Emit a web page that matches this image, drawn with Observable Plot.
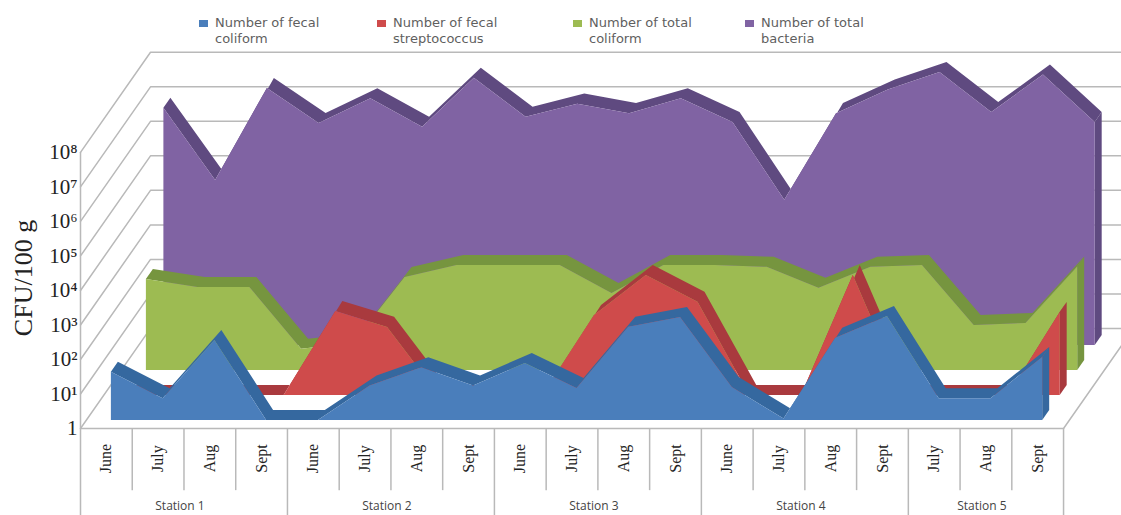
<!DOCTYPE html>
<html>
<head>
<meta charset="utf-8">
<script src="https://cdn.jsdelivr.net/npm/d3@7"></script>
<script src="https://cdn.jsdelivr.net/npm/@observablehq/plot@0.6"></script>
<style>
html,body{margin:0;padding:0;background:#fff;overflow:hidden}
#legend{position:relative;height:48px;font:13px "DejaVu Sans",sans-serif;color:#5f5f5f;line-height:16px}
#legend .item{position:absolute;top:15px;width:140px}
#legend .sw{position:absolute;left:-16px;top:5px;width:9px;height:7px}
svg{display:block}
</style>
</head>
<body>
<div id="legend"></div>
<div id="chart"></div>
<script>
const months = ["June","July","Aug","Sept","June","July","Aug","Sept","June","July","Aug","Sept","June","July","Aug","Sept","July","Aug","Sept"];
const stations = ["Station 1","Station 2","Station 3","Station 4","Station 5"];
const stationStarts = [0,4,8,12,16,19];

const fecalColiform = [25,4.3,209,1,1,10,34,10,45,8.5,500,970,9,1.1,240,1030,4.3,4.3,67];
const fecalStrep = [1,1,1,1,270,94,1,1,1,208,3000,500,1,1,3000,1,1,1,255];
const totalColiform = [435,255,255,4.1,6,495,1100,1100,1100,170,1100,1100,970,240,970,1100,20,23,1000];
const totalBacteria = [7.4e6,6e4,2.8e7,2.7e6,1.4e7,2.1e6,5.5e7,4.1e6,9.8e6,5.2e6,1.4e7,2.9e6,1.6e4,5.2e6,2.5e7,8.1e7,5.6e6,6.8e7,2.9e6];

const names = ["Number of fecal coliform","Number of fecal streptococcus","Number of total coliform","Number of total bacteria"];
const legendLines = [["Number of fecal","coliform"],["Number of fecal","streptococcus"],["Number of total","coliform"],["Number of total","bacteria"]];
const legendLeft = [215,393,589,761];
const faceColors = ["#4a7ebb","#cf4b4b","#9dbb52","#8063a3"];
const topColors = ["#35689f","#a93a3e","#76953f","#5f4a80"];
const seriesValues = [fecalColiform,fecalStrep,totalColiform,totalBacteria];
const decadeTicks = [1,1e1,1e2,1e3,1e4,1e5,1e6,1e7,1e8];
const superscripts = ["","¹","²","³","⁴","⁵","⁶","⁷","⁸"];

// 3-D projection expressed in axis units: category slots and decades
const wallDepthX = 1.353, wallDepthY = 2.9;
const slotDepthX = wallDepthX / 4, slotDepthY = wallDepthY / 4;
const gapX = 0.097, gapY = 0.232;
const thickX = 0.135, thickY = 0.29;

const lift = (v, d) => v * Math.pow(10, d);
const slots = months.length;

const seriesMarks = [3,2,1,0].flatMap(k => {
  const ox = gapX + k * slotDepthX, oy = gapY + k * slotDepthY;
  const rows = seriesValues[k].map((v,i) => ({
    xf: i + 0.5 + ox,
    xb: i + 0.5 + ox + thickX,
    yf: lift(v, oy),
    yb: lift(v, oy + thickY),
    base: lift(1, oy)
  }));
  const last = rows[rows.length - 1];
  const cap = [
    {x1:last.xf, y1:last.yf, x2:last.xb, y2:last.yb},
    {x1:last.xf, y1:last.base, x2:last.xb, y2:lift(last.base, thickY)}
  ];
  return [
    Plot.area(rows, {x1:"xf", y1:"yf", x2:"xb", y2:"yb", fill:topColors[k]}),
    Plot.area(cap, {x1:"x1", y1:"y1", x2:"x2", y2:"y2", fill:topColors[k]}),
    Plot.area(rows, {x1:"xf", y1:"base", x2:"xf", y2:"yf", fill:faceColors[k]})
  ];
});

const wallLines = decadeTicks.flatMap((t,j) => [
  {j, x:0, y:t},
  {j, x:wallDepthX, y:lift(t, wallDepthY)},
  {j, x:slots + wallDepthX, y:lift(t, wallDepthY)}
]);
const floorRight = [{x:slots, y:1},{x:slots + wallDepthX, y:lift(1, wallDepthY)}];
const innerSeparators = d3.range(1, slots).filter(i => !stationStarts.includes(i));

const gridColor = "#b9b9b9";
const labelLow = Math.pow(10,-0.87), rowEnd = Math.pow(10,-1.8), bottom = Math.pow(10,-2.52), stationY = Math.pow(10,-2.25);

const chart = Plot.plot({
  width: 1121, height: 467,
  marginLeft: 80, marginRight: 0, marginTop: 0, marginBottom: 0,
  style: {background:"#fff"},
  x: {domain:[0, 20.12], axis:null},
  y: {type:"log", domain:[bottom, Math.pow(10,11.01)], range:[467,0], axis:null},
  marks: [
    Plot.line(wallLines, {x:"x", y:"y", z:"j", stroke:gridColor, strokeWidth:1.5}),
    Plot.line(floorRight, {x:"x", y:"y", stroke:gridColor, strokeWidth:1.5}),
    Plot.ruleY([1], {x1:0, x2:slots, stroke:gridColor, strokeWidth:1.5}),
    Plot.ruleX([0], {y1:bottom, y2:1e8, stroke:gridColor, strokeWidth:1.5}),
    Plot.ruleX(innerSeparators, {y1:1, y2:rowEnd, stroke:gridColor, strokeWidth:1.5}),
    Plot.ruleX(stationStarts.slice(1), {y1:1, y2:bottom, stroke:gridColor, strokeWidth:1.5}),
    ...seriesMarks,
    Plot.axisY({ticks:decadeTicks, tickSize:0, tickPadding:3, label:null,
      tickFormat:(d) => { const e = decadeTicks.indexOf(d); return e === 0 ? "1" : "10" + superscripts[e]; },
      fontSize:21, fontFamily:"Liberation Serif", fill:"#222"}),
    Plot.text(["CFU/100 g"], {frameAnchor:"left", dx:-57, dy:-4, rotate:-90, textAnchor:"middle", fontSize:26, fontFamily:"Liberation Serif", fill:"#222"}),
    Plot.text(months, {x:(d,i) => i + 0.5, y:() => labelLow, rotate:-90, fontSize:16, fontFamily:"Liberation Serif", fill:"#222"}),
    Plot.text(stations, {x:(d,i) => (stationStarts[i] + stationStarts[i+1]) / 2, y:() => stationY, dx:-4, fontSize:12, fontFamily:"Open Sans", fill:"#444"})
  ]
});
document.getElementById("chart").append(chart);

const legend = d3.select("#legend");
names.forEach((n,k) => {
  const it = legend.append("div").attr("class","item").style("left", legendLeft[k] + "px").attr("title", n);
  it.append("div").attr("class","sw").style("background", faceColors[k]);
  legendLines[k].forEach(l => it.append("div").text(l));
});
</script>
</body>
</html>
